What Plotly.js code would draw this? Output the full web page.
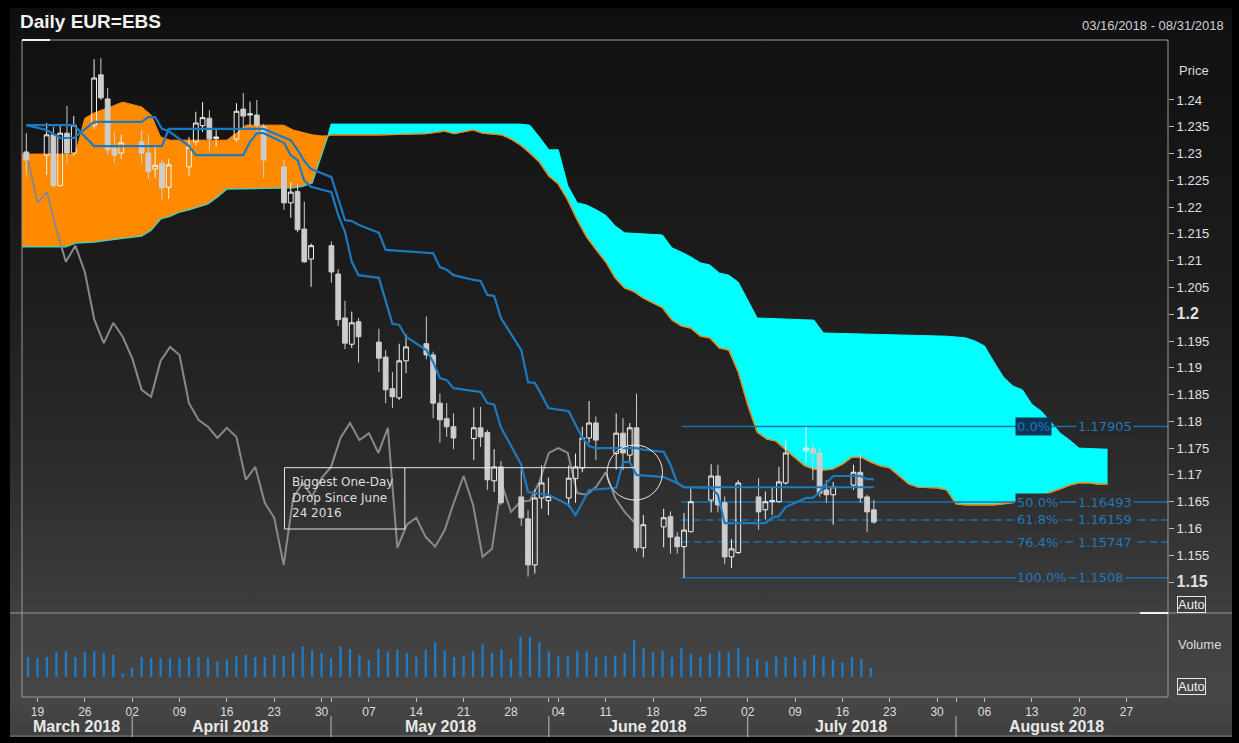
<!DOCTYPE html>
<html><head><meta charset="utf-8">
<script src="https://cdn.plot.ly/plotly-3.0.1.min.js"></script>
<style>
html,body{margin:0;padding:0;background:#000;}
#wrap{position:relative;width:1239px;height:743px;background:#000;overflow:hidden;}
#bg{position:absolute;left:10px;top:8px;width:1222px;height:729px;}
#chart{position:absolute;left:0;top:0;width:1239px;height:743px;}
</style></head>
<body><div id="wrap"><div id="bg"></div><div id="chart"></div></div>
<script>
// ---------------- DATA ----------------
const dates = ['2018-03-16','2018-03-19','2018-03-20','2018-03-21','2018-03-22','2018-03-23','2018-03-26','2018-03-27','2018-03-28','2018-03-29','2018-03-30','2018-04-02','2018-04-03','2018-04-04','2018-04-05','2018-04-06','2018-04-09','2018-04-10','2018-04-11','2018-04-12','2018-04-13','2018-04-16','2018-04-17','2018-04-18','2018-04-19','2018-04-20','2018-04-23','2018-04-24','2018-04-25','2018-04-26','2018-04-27','2018-04-30','2018-05-01','2018-05-02','2018-05-03','2018-05-04','2018-05-07','2018-05-08','2018-05-09','2018-05-10','2018-05-11','2018-05-14','2018-05-15','2018-05-16','2018-05-17','2018-05-18','2018-05-21','2018-05-22','2018-05-23','2018-05-24','2018-05-25','2018-05-28','2018-05-29','2018-05-30','2018-05-31','2018-06-01','2018-06-04','2018-06-05','2018-06-06','2018-06-07','2018-06-08','2018-06-11','2018-06-12','2018-06-13','2018-06-14','2018-06-15','2018-06-18','2018-06-19','2018-06-20','2018-06-21','2018-06-22','2018-06-25','2018-06-26','2018-06-27','2018-06-28','2018-06-29','2018-07-02','2018-07-03','2018-07-04','2018-07-05','2018-07-06','2018-07-09','2018-07-10','2018-07-11','2018-07-12','2018-07-13','2018-07-16','2018-07-17','2018-07-18','2018-07-19'];

const openP = [1.2303,1.2297,1.2335,1.2240,1.2338,1.2301,1.2353,1.2447,1.2402,1.2310,
1.2301,1.2322,1.2301,1.2271,1.2282,1.2237,1.2275,1.2322,1.2352,1.2366,
1.2328,1.2327,1.2383,1.2372,1.2372,1.2350,1.2275,1.2208,1.2229,1.2159,
1.2103,1.2128,1.2075,1.1993,1.1944,1.1986,1.1948,1.1920,1.1861,1.1844,
1.1913,1.1945,1.1924,1.1834,1.1805,1.1790,1.1768,1.1788,1.1779,1.1689,
1.1715,1.1659,1.1618,1.1532,1.1657,1.1652,1.1657,1.1693,1.1713,1.1769,
1.1797,1.1740,1.1778,1.1737,1.1788,1.1564,1.1603,1.1622,1.1584,1.1566,
1.1594,1.1653,1.1698,1.1648,1.1547,1.1555,1.1659,1.1635,1.1650,1.1650,
1.1685,1.1745,1.1749,1.1741,1.1672,1.1663,1.1681,1.1705,1.1659,1.1635];

const highP = [1.2338,1.2357,1.2350,1.2352,1.2389,1.2370,1.2476,1.2478,1.2422,1.2340,
1.2335,1.2344,1.2335,1.2312,1.2288,1.2290,1.2331,1.2378,1.2396,1.2381,
1.2345,1.2394,1.2413,1.2397,1.2400,1.2355,1.2288,1.2246,1.2245,1.2210,
1.2132,1.2136,1.2084,1.2025,1.2005,1.1993,1.1973,1.1933,1.1892,1.1945,
1.1963,1.1996,1.1930,1.1852,1.1834,1.1815,1.1826,1.1827,1.1784,1.1748,
1.1726,1.1715,1.1634,1.1673,1.1718,1.1695,1.1718,1.1740,1.1790,1.1838,
1.1809,1.1815,1.1806,1.1797,1.1852,1.1625,1.1637,1.1632,1.1593,1.1629,
1.1675,1.1720,1.1719,1.1660,1.1580,1.1690,1.1694,1.1669,1.1676,1.1715,
1.1766,1.1790,1.1760,1.1750,1.1690,1.1687,1.1719,1.1741,1.1663,1.1653];

const lowP = [1.2257,1.2260,1.2237,1.2238,1.2282,1.2296,1.2346,1.2400,1.2298,1.2282,
1.2290,1.2282,1.2253,1.2254,1.2215,1.2215,1.2258,1.2315,1.2340,1.2305,
1.2313,1.2322,1.2345,1.2351,1.2340,1.2255,1.2195,1.2180,1.2153,1.2096,
1.2051,1.2059,1.1978,1.1935,1.1937,1.1910,1.1892,1.1834,1.1825,1.1840,
1.1890,1.1916,1.1806,1.1760,1.1771,1.1748,1.1728,1.1752,1.1672,1.1668,
1.1644,1.1605,1.1510,1.1516,1.1637,1.1625,1.1640,1.1648,1.1705,1.1760,
1.1728,1.1710,1.1709,1.1722,1.1557,1.1546,1.1565,1.1553,1.1553,1.1508,
1.1593,1.1630,1.1630,1.1534,1.1526,1.1552,1.1598,1.1617,1.1625,1.1648,
1.1682,1.1722,1.1690,1.1659,1.1648,1.1607,1.1672,1.1648,1.1593,1.1609];

const closeP = [1.2288,1.2335,1.2240,1.2338,1.2301,1.2353,1.2441,1.2404,1.2307,1.2297,
1.2320,1.2301,1.2266,1.2278,1.2236,1.2279,1.2312,1.2357,1.2367,1.2327,
1.2331,1.2379,1.2370,1.2374,1.2353,1.2288,1.2208,1.2228,1.2158,1.2098,
1.2128,1.2079,1.1990,1.1946,1.1984,1.1958,1.1918,1.1859,1.1846,1.1913,
1.1939,1.1924,1.1834,1.1803,1.1790,1.1769,1.1788,1.1771,1.1691,1.1715,
1.1648,1.1620,1.1532,1.1657,1.1685,1.1660,1.1694,1.1715,1.1769,1.1797,
1.1765,1.1778,1.1741,1.1788,1.1564,1.1607,1.1620,1.1584,1.1566,1.1597,
1.1650,1.1698,1.1644,1.1547,1.1562,1.1685,1.1631,1.1650,1.1652,1.1687,
1.1741,1.1750,1.1741,1.1666,1.1663,1.1678,1.1705,1.1657,1.1631,1.1612];

const volume = [60,57,60,74,77,60,74,77,72,67,
10,27,60,57,57,57,57,60,60,57,
47,52,62,67,60,60,67,64,72,92,
80,72,57,92,84,67,52,84,77,82,
72,60,82,104,80,60,64,77,97,72,
82,54,120,120,104,77,62,62,77,77,
60,62,64,72,110,87,74,80,60,87,
70,60,70,77,74,87,60,54,47,60,
60,60,52,67,60,52,44,60,54,27];

// Conversion line (Tenkan) and base line (Kijun), read at their turning points
const tenkanDates = ['2018-03-16','2018-03-19','2018-03-21','2018-03-23','2018-03-26','2018-04-02','2018-04-03','2018-04-04','2018-04-05','2018-04-06','2018-04-09','2018-04-10','2018-04-17','2018-04-18','2018-04-19','2018-04-20','2018-04-23','2018-04-24','2018-04-25','2018-04-26','2018-04-27','2018-04-30','2018-05-01','2018-05-02','2018-05-03','2018-05-04','2018-05-07','2018-05-08','2018-05-09','2018-05-10','2018-05-11','2018-05-14','2018-05-15','2018-05-16','2018-05-17','2018-05-18','2018-05-21','2018-05-22','2018-05-23','2018-05-24','2018-05-25','2018-05-28','2018-05-29','2018-06-01','2018-06-04','2018-06-05','2018-06-06','2018-06-07','2018-06-11','2018-06-12','2018-06-13','2018-06-14','2018-06-18','2018-06-19','2018-06-20','2018-06-21','2018-06-25','2018-06-26','2018-06-27','2018-07-03','2018-07-04','2018-07-05','2018-07-06','2018-07-09','2018-07-10','2018-07-11','2018-07-12','2018-07-13','2018-07-17','2018-07-18','2018-07-19'];
const tenkanVals = [1.2353,1.2344,1.2329,1.2329,1.2359,1.2359,1.2368,1.2368,1.2346,1.2342,1.2314,1.2297,1.2297,1.2322,1.2338,1.2338,1.2320,1.2297,1.2288,1.2249,1.2238,1.2228,1.2185,1.2154,1.2098,1.2073,1.2068,1.2027,1.1982,1.1980,1.1958,1.1933,1.1911,1.1881,1.1877,1.1862,1.1857,1.1855,1.1834,1.1831,1.1789,1.1719,1.1668,1.1663,1.1644,1.1625,1.1648,1.1672,1.1676,1.1724,1.1724,1.1700,1.1696,1.1691,1.1685,1.1677,1.1676,1.1663,1.1610,1.1610,1.1620,1.1623,1.1640,1.1657,1.1657,1.1668,1.1685,1.1698,1.1698,1.1692,1.1692];

const kijunDates = ['2018-03-16','2018-03-23','2018-03-26','2018-04-05','2018-04-06','2018-04-20','2018-04-24','2018-04-25','2018-04-26','2018-04-27','2018-04-30','2018-05-01','2018-05-02','2018-05-03','2018-05-04','2018-05-07','2018-05-08','2018-05-15','2018-05-16','2018-05-17','2018-05-18','2018-05-21','2018-05-22','2018-05-23','2018-05-24','2018-05-25','2018-05-28','2018-05-29','2018-05-30','2018-05-31','2018-06-01','2018-06-04','2018-06-05','2018-06-06','2018-06-07','2018-06-08','2018-06-14','2018-06-15','2018-06-18','2018-06-19','2018-06-20','2018-06-21','2018-07-19'];
const kijunVals = [1.2353,1.2353,1.2314,1.2314,1.2346,1.2346,1.2325,1.2307,1.2286,1.2271,1.2256,1.2217,1.2176,1.2174,1.2167,1.2152,1.2120,1.2114,1.2088,1.2083,1.2073,1.2064,1.2062,1.2036,1.2034,1.1993,1.1933,1.1873,1.1872,1.1849,1.1825,1.1819,1.1793,1.1769,1.1754,1.1750,1.1750,1.1747,1.1743,1.1719,1.1685,1.1677,1.1677];

// Leading spans (cloud edges), read at their turning points; the two spans cross at cloudCross
const cloudCross = '2018-04-30 16:00';
const spanADates = ['2018-03-15','2018-03-23','2018-03-26','2018-03-27','2018-03-29','2018-03-30','2018-04-03','2018-04-04','2018-04-05','2018-04-06','2018-04-16','2018-04-17','2018-04-18','2018-04-24','2018-04-25','2018-04-26','2018-04-27','2018-04-30','2018-04-30 16:00','2018-05-01','2018-05-08','2018-05-15','2018-05-17','2018-05-18','2018-05-22','2018-05-23','2018-05-25','2018-05-28','2018-05-29','2018-05-30','2018-05-31','2018-06-01','2018-06-04','2018-06-05','2018-06-06','2018-06-07','2018-06-08','2018-06-11','2018-06-12','2018-06-13','2018-06-14','2018-06-15','2018-06-18','2018-06-19','2018-06-20','2018-06-21','2018-06-22','2018-06-25','2018-06-26','2018-06-27','2018-06-28','2018-06-29','2018-07-02','2018-07-03','2018-07-04','2018-07-05','2018-07-06','2018-07-09','2018-07-10','2018-07-11','2018-07-12','2018-07-13','2018-07-16','2018-07-17','2018-07-18','2018-07-19','2018-07-20','2018-07-23','2018-07-24','2018-07-25','2018-07-26','2018-07-27','2018-07-30','2018-07-31','2018-08-01','2018-08-02','2018-08-07','2018-08-08','2018-08-09','2018-08-10','2018-08-13','2018-08-14','2018-08-15','2018-08-16','2018-08-17','2018-08-20','2018-08-21','2018-08-22','2018-08-23'];
const spanAVals = [1.2299,1.2299,1.2366,1.2376,1.2389,1.2396,1.2387,1.2372,1.2331,1.2325,1.2325,1.2338,1.2353,1.2353,1.2344,1.2340,1.2335,1.2333,1.2333,1.2335,1.2335,1.2337,1.2342,1.2337,1.2344,1.2338,1.2335,1.2327,1.2316,1.2301,1.2284,1.2258,1.2243,1.2213,1.2176,1.2144,1.2120,1.2098,1.2068,1.2049,1.2042,1.2030,1.2021,1.2012,1.1989,1.1978,1.1974,1.1959,1.1956,1.1937,1.1933,1.1892,1.1831,1.1780,1.1767,1.1763,1.1747,1.1732,1.1717,1.1711,1.1709,1.1711,1.1720,1.1733,1.1733,1.1724,1.1717,1.1713,1.1698,1.1683,1.1677,1.1676,1.1676,1.1672,1.1646,1.1644,1.1644,1.1646,1.1648,1.1651,1.1655,1.1661,1.1668,1.1674,1.1681,1.1685,1.1685,1.1683,1.1683];

const spanBDates = ['2018-03-15','2018-03-22','2018-03-23','2018-03-27','2018-03-30','2018-04-03','2018-04-04','2018-04-05','2018-04-06','2018-04-09','2018-04-10','2018-04-11','2018-04-12','2018-04-13','2018-04-16','2018-04-25','2018-04-26','2018-04-27','2018-04-30','2018-04-30 16:00','2018-05-01','2018-05-29','2018-05-30','2018-05-31','2018-06-01','2018-06-04','2018-06-05','2018-06-06','2018-06-07','2018-06-08','2018-06-11','2018-06-12','2018-06-13','2018-06-19','2018-06-20','2018-06-21','2018-06-22','2018-06-25','2018-06-26','2018-06-27','2018-06-28','2018-06-29','2018-07-02','2018-07-03','2018-07-11','2018-07-12','2018-07-31','2018-08-01','2018-08-02','2018-08-03','2018-08-06','2018-08-07','2018-08-08','2018-08-09','2018-08-10','2018-08-13','2018-08-14','2018-08-15','2018-08-16','2018-08-17','2018-08-20','2018-08-23'];
const spanBVals = [1.2126,1.2126,1.2133,1.2135,1.2142,1.2146,1.2157,1.2178,1.2183,1.2191,1.2195,1.2200,1.2206,1.2219,1.2234,1.2236,1.2239,1.2245,1.2297,1.2333,1.2355,1.2355,1.2353,1.2331,1.2307,1.2307,1.2240,1.2208,1.2204,1.2195,1.2185,1.2165,1.2152,1.2148,1.2124,1.2116,1.2107,1.2096,1.2092,1.2077,1.2073,1.2060,1.2027,1.1993,1.1989,1.1965,1.1959,1.1957,1.1956,1.1950,1.1941,1.1911,1.1883,1.1866,1.1859,1.1832,1.1819,1.1799,1.1778,1.1765,1.1750,1.1748];

const CHIKOU_SHIFT = 25;

const fibStart = '2018-06-21';
const fibLevels = [1.17905, 1.16493, 1.16159, 1.15747, 1.1508];
const fibLabels = ['0.0%', '50.0%', '61.8%', '76.4%', '100.0%'];
const fibDash = ['solid', 'solid', 'dash', 'dash', 'solid'];

const xTickVals = ['2018-03-19','2018-03-26','2018-04-02','2018-04-09','2018-04-16','2018-04-23','2018-04-30','2018-05-01','2018-05-07','2018-05-14','2018-05-21','2018-05-28','2018-06-01','2018-06-04','2018-06-11','2018-06-18','2018-06-25','2018-07-02','2018-07-09','2018-07-16','2018-07-23','2018-07-30','2018-08-01','2018-08-06','2018-08-13','2018-08-20','2018-08-27'];
const xTickText = ['19','26','02','09','16','23','30','','07','14','21','28','','04','11','18','25','02','09','16','23','30','','06','13','20','27'];

const yTickVals = [1.15,1.155,1.16,1.165,1.17,1.175,1.18,1.185,1.19,1.195,1.2,1.205,1.21,1.215,1.22,1.225,1.23,1.235,1.24];
const yTickText = ['1.15','1.155','1.16','1.165','1.17','1.175','1.18','1.185','1.19','1.195','1.2','1.205','1.21','1.215','1.22','1.225','1.23','1.235','1.24'];
const yMajor = ['1.2','1.15'];

const monthNames = ['March 2018','April 2018','May 2018','June 2018','July 2018','August 2018'];
const monthCenters = ['2018-03-23 02:00','2018-04-16 10:00','2018-05-16 14:00','2018-06-15 10:00','2018-07-16 22:00','2018-08-15 14:00'];
const monthStarts = ['2018-04-02','2018-05-01','2018-06-01','2018-07-02','2018-08-01'];

const noteText = 'Biggest One-Day<br>Drop Since June<br>24 2016';

// ---------------- STYLE / LAYOUT ----------------
const BG = [[8,14],[40,17],[150,22],[300,30],[450,42],[600,60],[612,64],[697,70],[737,64]];
function grayAt(py){
  for(let i=1;i<BG.length;i++){
    if(py<=BG[i][0]){const a=BG[i-1],b=BG[i];const v=Math.round(a[1]+(b[1]-a[1])*(py-a[0])/(b[0]-a[0]));return 'rgb('+v+','+v+','+v+')';}
  }
  const v=BG[BG.length-1][1];return 'rgb('+v+','+v+','+v+')';
}
document.getElementById('bg').style.background='linear-gradient(to bottom,'+BG.map(s=>grayAt(s[0])+' '+(s[0]-8)+'px').join(',')+')';

const W=1239,H=743,ML=22,MR=71,MT=40,MB=46;
const PW=W-ML-MR, PH=H-MT-MB;
const priceDom=[(H-MB-612)/PH,1], volDom=[0,(H-MB-614)/PH];
const xr=['2018-03-15 08:47','2018-08-31 09:07'];
const yr=[1.14441,1.25120];
const rb=[{bounds:['sat','mon']}];
const px=(p)=>( (p-ML)/PW );
const py=(p)=>( (H-MB-p)/PH );
const priceToPix=(v)=>MT+(yr[1]-v)/(yr[1]-yr[0])*(612-MT);

const ORANGE='#ff8a00', CYAN='#00ffff', BLUE='#1b7bc2', FIB='#1c6fab', FIBTXT='#2178ba';

function split(ds,vs,before){
  const o={x:[],y:[]};
  const c=new Date(cloudCross.replace(' ','T')).getTime();
  ds.forEach((d,i)=>{const t=new Date(d.replace(' ','T')).getTime();
    if(before? t<=c : t>=c){o.x.push(d);o.y.push(vs[i]);}});
  return o;
}
const aO=split(spanADates,spanAVals,true), bO=split(spanBDates,spanBVals,true);
const aC=split(spanADates,spanAVals,false), bC=split(spanBDates,spanBVals,false);

const traces=[];
traces.push({type:'scatter',mode:'lines',x:aO.x,y:aO.y,line:{color:ORANGE,width:1},xaxis:'x',yaxis:'y',hoverinfo:'skip'});
traces.push({type:'scatter',mode:'lines',x:bO.x,y:bO.y,line:{color:'#56c9ad',width:1.5},fill:'tonexty',fillcolor:ORANGE,xaxis:'x',yaxis:'y',hoverinfo:'skip'});
traces.push({type:'scatter',mode:'lines',x:aC.x,y:aC.y,line:{color:'#e08a20',width:1.2},xaxis:'x',yaxis:'y',hoverinfo:'skip'});
traces.push({type:'scatter',mode:'lines',x:bC.x,y:bC.y,line:{color:CYAN,width:1},fill:'tonexty',fillcolor:CYAN,xaxis:'x',yaxis:'y',hoverinfo:'skip'});
traces.push({type:'scatter',mode:'lines',x:aC.x,y:aC.y,line:{color:'#e08a20',width:1.2},xaxis:'x',yaxis:'y',hoverinfo:'skip'});
// lagging span: closes drawn CHIKOU_SHIFT periods back
const chX=[],chY=[];
for(let i=CHIKOU_SHIFT;i<closeP.length;i++){chX.push(dates[i-CHIKOU_SHIFT]);chY.push(closeP[i]);}
traces.push({type:'scatter',mode:'lines',x:chX,y:chY,line:{color:'#8a8a8a',width:2},xaxis:'x',yaxis:'y',hoverinfo:'skip'});
// fibonacci levels
fibLevels.forEach((lv,i)=>{
  traces.push({type:'scatter',mode:'lines',x:[fibStart,xr[1]],y:[lv,lv],line:{color:FIB,width:1.5,dash:fibDash[i]==='dash'?'8px,4px':'solid'},xaxis:'x',yaxis:'y',hoverinfo:'skip'});
});
// volume
traces.push({type:'bar',x:dates,y:volume,marker:{color:'#1f7cc6',line:{width:0}},width:0.24*86400000,xaxis:'x',yaxis:'y2',hoverinfo:'skip'});
// candles + lines on overlay so they sit above the cloud
traces.push({type:'candlestick',x:dates,open:openP,high:highP,low:lowP,close:closeP,xaxis:'x4',yaxis:'y3',whiskerwidth:0,
  increasing:{line:{color:'#f2f2f2',width:1},fillcolor:'rgba(0,0,0,0)'},
  decreasing:{line:{color:'#cdcdcd',width:1},fillcolor:'#cdcdcd'},hoverinfo:'skip'});
traces.push({type:'scatter',mode:'lines',x:kijunDates,y:kijunVals,line:{color:BLUE,width:2.2},xaxis:'x4',yaxis:'y3',hoverinfo:'skip'});
traces.push({type:'scatter',mode:'lines',x:tenkanDates,y:tenkanVals,line:{color:BLUE,width:2.2},xaxis:'x4',yaxis:'y3',hoverinfo:'skip'});
// last-value markers at the price / volume scale
const last=a=>a[a.length-1];
const edgeX=1+5/PW;
traces.push({type:'scatter',mode:'markers',x:[edgeX,edgeX,edgeX,edgeX,edgeX],
  y:[last(spanBVals),last(tenkanVals),last(spanAVals),last(kijunVals),last(closeP)],
  marker:{symbol:'diamond',size:8,color:[ORANGE,'#1b86d8',ORANGE,'#1b86d8','#8c8c8c']},xaxis:'x3',yaxis:'y',cliponaxis:false,hoverinfo:'skip'});
traces.push({type:'scatter',mode:'markers',x:[edgeX],y:[last(volume)],marker:{symbol:'diamond',size:8,color:'#1b86d8'},xaxis:'x3',yaxis:'y2',cliponaxis:false,hoverinfo:'skip'});

const F='Arial, "Liberation Sans", sans-serif';
const DV='"DejaVu Sans", Verdana, sans-serif';

const annotations=[];
annotations.push({xref:'paper',yref:'paper',x:px(1226),y:py(26),xanchor:'right',yanchor:'middle',text:'03/16/2018 - 08/31/2018',showarrow:false,font:{family:F,size:13,color:'#cfcfcf'}});
annotations.push({xref:'paper',yref:'paper',x:px(1177),y:py(70),xanchor:'left',yanchor:'middle',text:'Price',showarrow:false,font:{family:F,size:13,color:'#dddddd'}});
annotations.push({xref:'paper',yref:'paper',x:px(1177),y:py(604),xanchor:'left',yanchor:'middle',text:'Auto',showarrow:false,font:{family:F,size:13,color:'#eeeeee'},bordercolor:'#e6e6e6',borderwidth:1,borderpad:0});
annotations.push({xref:'paper',yref:'paper',x:px(1176),y:py(644),xanchor:'left',yanchor:'middle',text:'Volume',showarrow:false,font:{family:F,size:13,color:'#dddddd'}});
annotations.push({xref:'paper',yref:'paper',x:px(1177),y:py(686),xanchor:'left',yanchor:'middle',text:'Auto',showarrow:false,font:{family:F,size:13,color:'#eeeeee'},bordercolor:'#e6e6e6',borderwidth:1,borderpad:0});
monthNames.forEach((m,i)=>annotations.push({xref:'x',yref:'paper',x:monthCenters[i],y:py(727),xanchor:'center',yanchor:'middle',text:'<b>'+m+'</b>',showarrow:false,font:{family:F,size:16,color:'#e8e8e8'}}));
annotations.push({xref:'x',yref:'y',x:'2018-04-24 15:00',y:1.1704,xanchor:'left',yanchor:'top',align:'left',text:noteText,showarrow:false,font:{family:DV,size:12,color:'#dedede'}});
fibLevels.forEach((lv,i)=>{
  const g=grayAt(priceToPix(lv));
  annotations.push({xref:'x',yref:'y',x:'2018-08-09 05:00',y:lv,xanchor:'left',yanchor:'middle',text:fibLabels[i],showarrow:false,font:{family:DV,size:13,color:FIBTXT},bgcolor:i===0?'#0b3556':g,borderpad:1});
  annotations.push({xref:'x',yref:'y',x:'2018-08-17 17:00',y:lv,xanchor:'left',yanchor:'middle',text:String(lv),showarrow:false,font:{family:DV,size:13,color:FIBTXT},bgcolor:g,borderpad:1});
});

const BORDER='#9a9a9a';
const shapes=[
  {type:'line',xref:'paper',yref:'paper',x0:0,x1:1,y0:1,y1:1,line:{color:BORDER,width:1}},
  {type:'line',xref:'paper',yref:'paper',x0:0,x1:0,y0:0,y1:1,line:{color:BORDER,width:1}},
  {type:'line',xref:'paper',yref:'paper',x0:1,x1:1,y0:0,y1:1,line:{color:BORDER,width:1}},
  {type:'line',xref:'paper',yref:'paper',x0:px(10),x1:px(1232),y0:py(613),y1:py(613),line:{color:BORDER,width:1}},
  {type:'line',xref:'paper',yref:'paper',x0:0,x1:1,y0:0,y1:0,line:{color:BORDER,width:1}},
  {type:'line',xref:'paper',yref:'paper',x0:px(10),x1:px(1232),y0:py(736),y1:py(736),line:{color:'#7a7a7a',width:1}},
  {type:'line',xref:'paper',yref:'paper',x0:0,x1:px(50),y0:1,y1:1,line:{color:'#f0f0f0',width:2}},
  {type:'line',xref:'paper',yref:'paper',x0:px(1140),x1:1,y0:py(613),y1:py(613),line:{color:'#f0f0f0',width:2}},
  {type:'rect',xref:'x',yref:'y',x0:'2018-04-24 02:00',x1:'2018-05-10 19:00',y0:1.1599,y1:1.17135,line:{color:'#e8e8e8',width:1}},
  {type:'line',xref:'x',yref:'y',x0:'2018-05-10 19:00',x1:'2018-06-14 02:00',y0:1.17135,y1:1.17135,line:{color:'#e8e8e8',width:1}},
  {type:'circle',xref:'x',yref:'y',x0:'2018-06-11 03:30',x1:'2018-06-19 00:00',y0:1.1653,y1:1.1756,line:{color:'#e8e8e8',width:1}}
];
monthStarts.forEach(d=>shapes.push({type:'line',xref:'x',yref:'paper',x0:d,x1:d,y0:py(737),y1:py(716),line:{color:'#bdbdbd',width:1}}));

const layout={
  width:W,height:H,margin:{l:ML,r:MR,t:MT,b:MB,pad:0},
  paper_bgcolor:'rgba(0,0,0,0)',plot_bgcolor:'rgba(0,0,0,0)',
  showlegend:false,hovermode:false,dragmode:false,
  boxgap:0.2,boxgroupgap:0.12,
  font:{family:F,color:'#dddddd',size:12},
  title:{text:'<b>Daily EUR=EBS</b>',xref:'container',yref:'container',x:20/W,xanchor:'left',y:1-21/H,yanchor:'middle',font:{family:F,size:19,color:'#f2f2f2'}},
  xaxis:{type:'date',range:xr,rangebreaks:rb,anchor:'y2',tickmode:'array',tickvals:xTickVals,ticktext:xTickText,ticks:'outside',ticklen:4,tickcolor:'#bbbbbb',tickwidth:1,
    tickfont:{family:F,size:12,color:'#dddddd'},showgrid:false,zeroline:false,showline:false,rangeslider:{visible:false},fixedrange:true},
  xaxis3:{overlaying:'x',range:[0,1],visible:false,fixedrange:true},
  xaxis4:{overlaying:'x',type:'date',range:xr,rangebreaks:rb,visible:false,rangeslider:{visible:false},fixedrange:true},
  yaxis:{domain:priceDom,range:yr,side:'right',anchor:'x',tickmode:'array',tickvals:yTickVals,
    ticktext:yTickText.map(t=>yMajor.includes(t)?'<span style="font-size:16px"><b>'+t+'</b></span>':t),
    ticks:'outside',ticklen:5,tickcolor:'#bbbbbb',tickfont:{family:F,size:13,color:'#e0e0e0'},showgrid:false,zeroline:false,showline:false,fixedrange:true},
  yaxis2:{domain:volDom,range:[-60,189],anchor:'x',showticklabels:false,ticks:'',showgrid:false,zeroline:false,showline:false,fixedrange:true},
  yaxis3:{overlaying:'y',range:yr,visible:false,fixedrange:true},
  annotations:annotations,shapes:shapes
};
Plotly.newPlot('chart',traces,layout,{staticPlot:true,displayModeBar:false});
</script>
</body></html>
